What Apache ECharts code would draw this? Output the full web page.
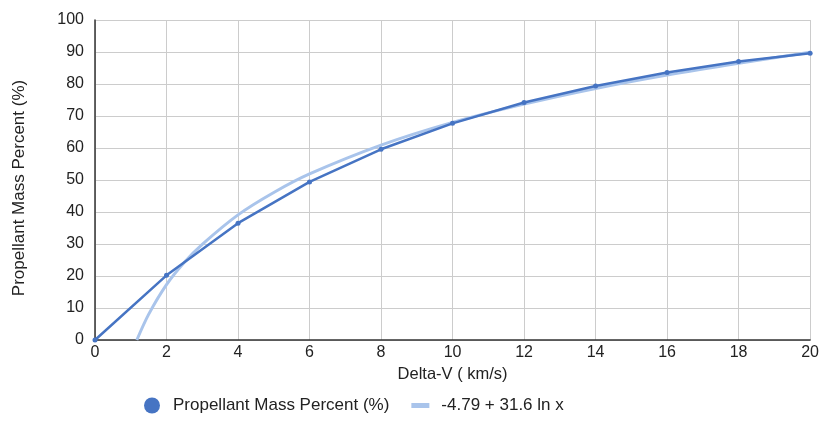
<!DOCTYPE html>
<html>
<head>
<meta charset="utf-8"/>
<title>Propellant Mass Percent</title>
<script src="https://cdn.jsdelivr.net/npm/echarts@6/dist/echarts.min.js"></script>
<style>
  html, body { margin: 0; padding: 0; background: #fff; }
  #chart { width: 822px; height: 443px; }
</style>
</head>
<body>
<div id="chart"></div>
<script>
// delta-v (km/s) and propellant mass percent
var deltaV = [0, 2, 4, 6, 8, 10, 12, 14, 16, 18, 20];
var massPercent = [0, 20.2, 36.5, 49.4, 59.6, 67.7, 74.2, 79.4, 83.6, 87.0, 89.6];

// log trendline, points
var trendX = [1.17, 1.5, 2, 2.5, 3, 4, 5, 6, 8, 10, 12, 14, 16, 18, 20];
var trendY = [0, 8.0, 17.3, 24.3, 29.9, 39.1, 46.1, 51.9, 60.9, 68.0, 73.7, 78.6, 82.8, 86.5, 89.9];

var seriesName = 'Propellant Mass Percent (%)';
var trendName = '-4.79 + 31.6 ln x';

var pairs = function (xs, ys) {
    var out = [];
    for (var i = 0; i < xs.length; i++) out.push([xs[i], ys[i]]);
    return out;
};

var font = 'Liberation Sans, Arial, sans-serif';
var chart = echarts.init(document.getElementById('chart'));
chart.setOption({
    animation: false,
    textStyle: { fontFamily: font },
    grid: { left: 95, right: 9, top: 20, bottom: 103 },
    legend: {
        bottom: 24,
        left: 139,
        itemWidth: 18,
        itemHeight: 16,
        itemGap: 22,
        textStyle: { fontSize: 17, color: '#222', fontFamily: font, padding: [0, 0, 0, 7] },
        data: [
            { name: seriesName, icon: 'circle' },
            { name: trendName, icon: 'path://M0,0 H18 V5 H0 Z' }
        ]
    },
    xAxis: {
        type: 'value',
        min: 0, max: 20, interval: 2,
        name: 'Delta-V ( km/s)',
        nameLocation: 'middle',
        nameGap: 24,
        nameTextStyle: { fontSize: 16.5, color: '#222', fontFamily: font },
        axisLine: { lineStyle: { color: '#333', width: 1.5 } },
        axisTick: { show: false },
        axisLabel: { fontSize: 16, color: '#222', margin: 5 },
        splitLine: { lineStyle: { color: '#ccc' } }
    },
    yAxis: {
        type: 'value',
        min: 0, max: 100, interval: 10,
        name: 'Propellant Mass Percent (%)',
        nameLocation: 'middle',
        nameGap: 67,
        nameTextStyle: { fontSize: 17, color: '#222', fontFamily: font, padding: [0, 16, 0, 0] },
        axisLine: { show: true, lineStyle: { color: '#333', width: 1.5 } },
        axisTick: { show: false },
        axisLabel: { fontSize: 16, color: '#222', margin: 11 },
        splitLine: { lineStyle: { color: '#ccc' } }
    },
    series: [
        {
            name: trendName,
            type: 'line',
            data: pairs(trendX, trendY),
            smooth: 0.3,
            showSymbol: false,
            symbol: 'none',
            itemStyle: { color: '#a9c4eb' },
            lineStyle: { color: '#a9c4eb', width: 3 },
            z: 2
        },
        {
            name: seriesName,
            type: 'line',
            data: pairs(deltaV, massPercent),
            symbol: 'circle',
            symbolSize: 5,
            itemStyle: { color: '#4674c3' },
            lineStyle: { color: '#4674c3', width: 2.5 },
            z: 3
        }
    ]
});
</script>
</body>
</html>
